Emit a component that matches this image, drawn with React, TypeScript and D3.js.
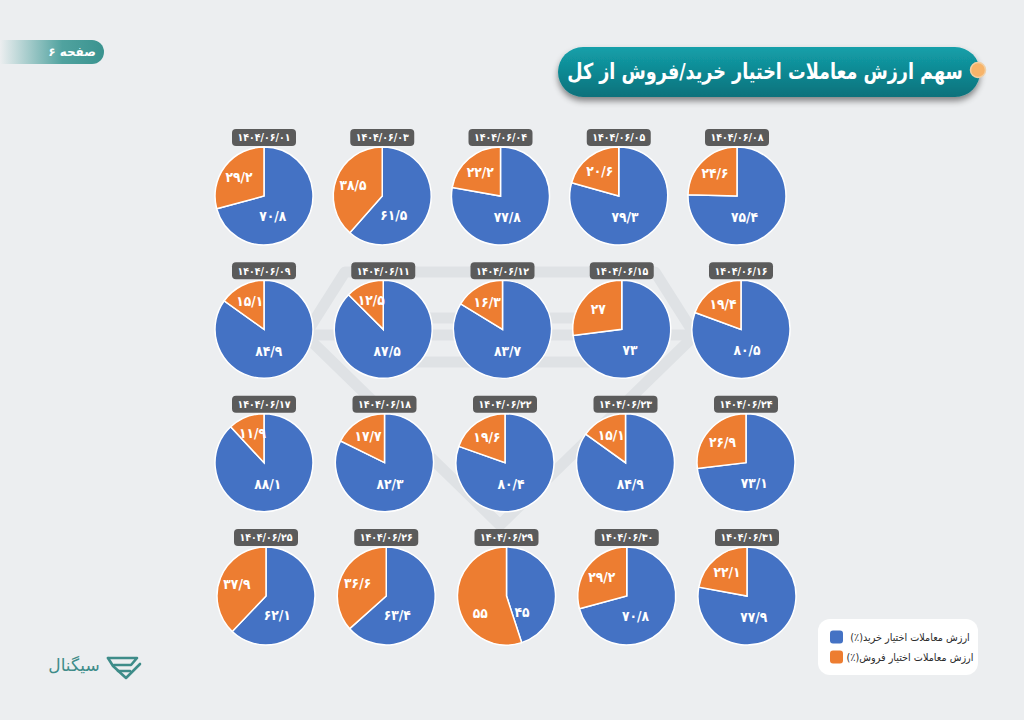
import React from 'react';
import * as d3 from 'd3';

// dates (Persian calendar), shown above each pie
const dates = [
  '۱۴۰۴/۰۶/۰۱', '۱۴۰۴/۰۶/۰۳', '۱۴۰۴/۰۶/۰۴', '۱۴۰۴/۰۶/۰۵', '۱۴۰۴/۰۶/۰۸',
  '۱۴۰۴/۰۶/۰۹', '۱۴۰۴/۰۶/۱۱', '۱۴۰۴/۰۶/۱۲', '۱۴۰۴/۰۶/۱۵', '۱۴۰۴/۰۶/۱۶',
  '۱۴۰۴/۰۶/۱۷', '۱۴۰۴/۰۶/۱۸', '۱۴۰۴/۰۶/۲۲', '۱۴۰۴/۰۶/۲۳', '۱۴۰۴/۰۶/۲۴',
  '۱۴۰۴/۰۶/۲۵', '۱۴۰۴/۰۶/۲۶', '۱۴۰۴/۰۶/۲۹', '۱۴۰۴/۰۶/۳۰', '۱۴۰۴/۰۶/۳۱',
];

// call option share (%)
const buyShare = [
  70.8, 61.5, 77.8, 79.3, 75.4,
  84.9, 87.5, 83.7, 73, 80.5,
  88.1, 82.3, 80.4, 84.9, 73.1,
  62.1, 63.4, 45, 70.8, 77.9,
];

// put option share (%)
const sellShare = [
  29.2, 38.5, 22.2, 20.6, 24.6,
  15.1, 12.5, 16.3, 27, 19.4,
  11.9, 17.7, 19.6, 15.1, 26.9,
  37.9, 36.6, 55, 29.2, 22.1,
];

const seriesNames = ['ارزش معاملات اختیار خرید(٪)', 'ارزش معاملات اختیار فروش(٪)'];
const seriesColors = ['#4472C4', '#ED7D31'];

const title = 'سهم ارزش معاملات اختیار خرید/فروش از کل';
const pageLabel = 'صفحه ۶';
const brand = 'سیگنال';

const W = 1024;
const H = 720;
const R = 49;
const COLS = 5;
const FONT = "'DejaVu Sans', sans-serif";

const faDigits = '۰۱۲۳۴۵۶۷۸۹';
const toFa = (v: number) =>
  String(v).replace(/\d/g, (d) => faDigits[+d]).replace('.', '/');

// grid of pie centres (the columns spread slightly row by row in the original)
const rowY = d3.scalePoint<number>().domain([0, 1, 2, 3]).range([196, 596]);
const rowSpan: [number, number][] = [[264, 737], [264, 741], [264, 746], [266, 747]];

const pie = d3.pie<number>().sort(null).value((d) => d);
const arc = d3.arc<d3.PieArcDatum<number>>().innerRadius(0).outerRadius(R);

const PieCell: React.FC<{ i: number }> = ({ i }) => {
  const row = Math.floor(i / COLS);
  const col = i % COLS;
  const x = d3.scaleLinear().domain([0, COLS - 1]).range(rowSpan[row])(col);
  const y = rowY(row) as number;
  const arcs = pie([buyShare[i], sellShare[i]]);
  const total = buyShare[i] + sellShare[i];

  return (
    <g transform={`translate(${x},${y})`}>
      {arcs.map((a, k) => (
        <path key={k} d={arc(a) || ''} fill={seriesColors[k]} stroke="#fff" strokeWidth={1.5} />
      ))}
      {arcs.map((a, k) => {
        const mid = (a.startAngle + a.endAngle) / 2;
        const frac = a.data / total;
        const pull = k === 0 ? 0.55 : frac > 0.5 ? 0.3 : 0;
        const ang = mid + (Math.PI - mid) * pull;
        const rl = k === 0 ? R * 0.45 : R * 0.64;
        return (
          <text
            key={'t' + k}
            transform={`translate(${Math.sin(ang) * rl},${-Math.cos(ang) * rl}) scale(0.88,1)`}
            dy="0.35em"
            textAnchor="middle"
            fill="#fff"
            fontWeight="bold"
            fontSize={14}
            fontFamily={FONT}
          >
            {toFa(a.data)}
          </text>
        );
      })}
      <rect x={-32} y={-R - 18} width={64} height={17} rx={4} fill="#5b5b5b" />
      <text
        transform={`translate(0,${-R - 9.5}) scale(0.9,1)`}
        dy="0.35em"
        textAnchor="middle"
        fill="#fff"
        fontWeight="bold"
        fontSize={10.5}
        fontFamily={FONT}
      >
        {dates[i]}
      </text>
    </g>
  );
};

const App: React.FC = () => {
  return (
    <svg
      width={W}
      height={H}
      viewBox={`0 0 ${W} ${H}`}
      style={{ position: 'absolute', left: 0, top: 0, display: 'block' }}
    >
      <defs>
        <linearGradient id="titleGrad" x1="0" y1="0" x2="0" y2="1">
          <stop offset="0" stopColor="#14a0aa" />
          <stop offset="1" stopColor="#0a717b" />
        </linearGradient>
        <linearGradient id="pageGrad" x1="0" y1="0" x2="1" y2="0">
          <stop offset="0" stopColor="#3f9a96" stopOpacity={0} />
          <stop offset="0.6" stopColor="#3f9a96" stopOpacity={0.9} />
          <stop offset="1" stopColor="#3a938f" />
        </linearGradient>
        <filter id="shadow" x="-10%" y="-30%" width="120%" height="180%">
          <feDropShadow dx="0" dy="4" stdDeviation="3" floodColor="#000" floodOpacity="0.45" />
        </filter>
      </defs>

      <rect width={W} height={H} fill="#eceef0" />

      {/* faint gem watermark */}
      <g fill="none" stroke="#dfe2e5" strokeWidth={11} strokeLinejoin="round">
        <path d="M345,272 L655,272 L695,335 L500,525 L305,335 Z" />
        <path d="M305,335 L695,335" />
        <path d="M420,318 L610,318" />
        <path d="M360,362 L640,362" />
      </g>

      {/* page tag */}
      <path d="M0,40 H92 A12,12 0 0 1 92,64 H0 Z" fill="url(#pageGrad)" />
      <text
        x={72}
        y={52}
        dy="0.35em"
        textAnchor="middle"
        direction="rtl"
        fill="#fff"
        fontWeight="bold"
        fontSize={12}
        fontFamily={FONT}
      >
        {pageLabel}
      </text>

      {/* title pill */}
      <rect x={558} y={47} width={422} height={50} rx={25} fill="url(#titleGrad)" filter="url(#shadow)" />
      <circle cx={978} cy={70} r={7.5} fill="#f7b46a" stroke="#f2cfa3" strokeWidth={1.5} />
      <text
        transform="translate(765,71) scale(0.8,1)"
        dy="0.35em"
        textAnchor="middle"
        direction="rtl"
        fill="#fff"
        fontWeight="bold"
        fontSize={22}
        fontFamily={FONT}
      >
        {title}
      </text>

      {dates.map((_, i) => (
        <PieCell key={i} i={i} />
      ))}

      {/* legend */}
      <rect x={818} y={619} width={160} height={56} rx={12} fill="#fff" />
      {seriesNames.map((name, k) => (
        <g key={name} transform={`translate(0,${637 + k * 20})`}>
          <rect x={830} y={-6.5} width={13} height={13} rx={3} fill={seriesColors[k]} />
          <text
            transform="translate(910,0) scale(0.92,1)"
            dy="0.35em"
            textAnchor="middle"
            direction="rtl"
            fill="#2b2b2b"
            fontSize={10.5}
            fontFamily={FONT}
          >
            {name}
          </text>
        </g>
      ))}

      {/* brand */}
      <text
        x={74}
        y={665}
        dy="0.35em"
        textAnchor="middle"
        direction="rtl"
        fill="#3e8c89"
        fontSize={17}
        fontFamily={FONT}
      >
        {brand}
      </text>
      <g fill="none" stroke="#3e8c89" strokeWidth={2.6} strokeLinejoin="round" strokeLinecap="round">
        <path d="M108,658 L137,658 L131,665 L114,665" />
        <path d="M108,658 L113,666 L126,678 L140,664" />
        <path d="M118,671 L130,671" />
      </g>
    </svg>
  );
};

export default App;
